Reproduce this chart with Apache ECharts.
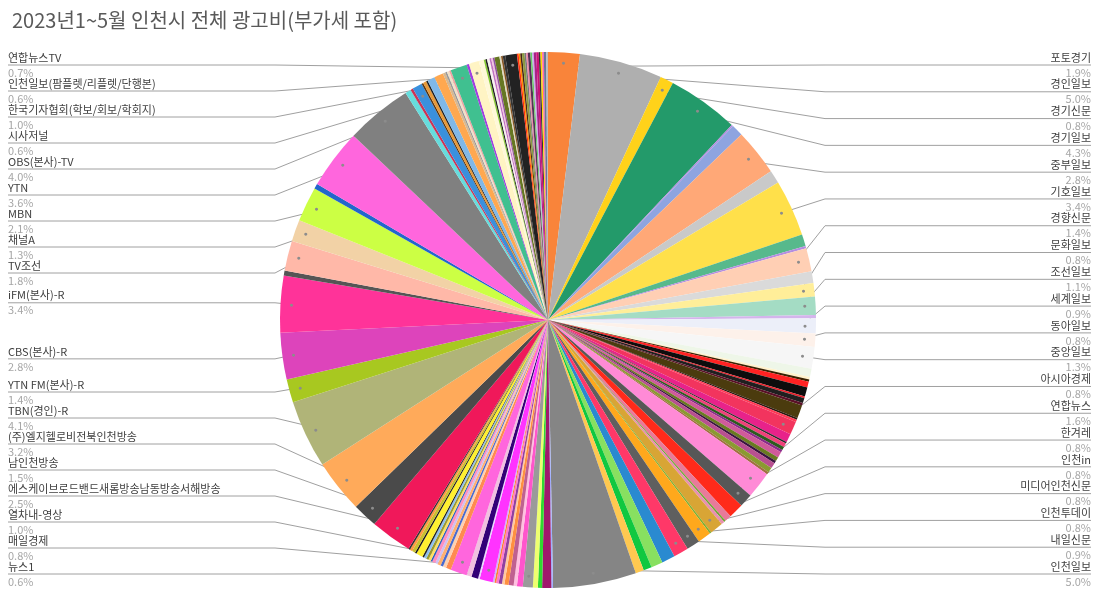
<!DOCTYPE html>
<html><head><meta charset="utf-8">
<script src="https://cdn.jsdelivr.net/npm/echarts@6/dist/echarts.min.js"></script>
<style>html,body{margin:0;padding:0;background:#fff}#c{width:1100px;height:607px}</style>
</head><body><div id="c"></div>
<script>
const titleText = '2023년1~5월 인천시 전체 광고비(부가세 포함)';
const U = '';
// slice names clockwise from 12 o'clock ('' = unlabeled slice)
const names = [
  '포토경기','경인일보','경기신문','경기일보',U,U,'중부일보',U,'기호일보',U,U,
  '경향신문',U,'문화일보','조선일보',U,'세계일보','동아일보','중앙일보',U,
  U,U,U,U,U,U,U,U,U,U,'아시아경제',
  U,U,U,U,U,U,U,U,U,U,U,'연합뉴스','한겨레',
  U,U,U,U,'인천in',U,'미디어인천신문','인천투데이','내일신문',U,U,U,U,'인천일보',
  U,U,U,U,'뉴스1',U,U,U,U,U,U,U,U,U,'매일경제',
  U,U,U,'열차내-영상',
  U,U,U,U,U,U,U,U,U,U,U,U,U,U,U,U,
  '에스케이브로드밴드새롬방송남동방송서해방송','남인천방송','(주)엘지헬로비전북인천방송','TBN(경인)-R','YTN FM(본사)-R','CBS(본사)-R','iFM(본사)-R',U,
  'TV조선','채널A','MBN',U,'YTN','OBS(본사)-TV',U,U,'시사저널',
  U,U,U,U,U,U,U,U,U,'한국기자협회(학보/회보/학회지)',U,'인천일보(팜플렛/리플렛/단행본)',
  U,U,U,U,U,U,U,U,U,U,U,'연합뉴스TV',
  U,U,U,U,U,U,U,U,U,U,U,U,U,U,U,U
];
// share of total (%)
const values = [
  1.9,5.0,0.8,4.3,0.1,0.7,2.8,0.8,3.4,0.7,0.15,
  1.4,0.7,0.8,1.1,0.2,0.9,0.8,1.3,0.5,
  0.15,0.15,0.35,0.55,0.1,0.3,0.15,0.8,0.1,0.15,0.8,
  0.5,0.1,0.25,0.2,0.15,0.35,0.25,0.15,0.35,0.3,0.15,1.6,0.8,
  0.9,0.4,0.1,0.2,0.8,0.1,0.8,0.8,0.9,0.8,0.7,0.5,0.5,5.0,
  0.1,0.55,0.25,0.3,0.6,0.35,0.2,0.3,0.25,0.15,0.2,0.15,0.1,0.1,0.8,
  0.1,0.4,0.3,1.0,
  0.3,0.2,0.15,0.2,0.15,0.2,0.1,0.15,0.15,0.15,0.1,0.4,0.1,0.2,0.15,0.1,
  2.5,1.5,3.2,4.1,1.4,2.8,3.4,0.3,
  1.8,1.3,2.1,0.3,3.6,4.0,0.35,0.15,0.6,
  0.1,0.2,0.1,0.45,0.55,0.15,0.1,0.15,0.1,1.0,0.15,0.6,
  0.3,0.1,0.1,0.15,0.1,0.1,0.1,0.3,0.1,0.1,0.15,0.7,
  0.1,0.1,0.1,0.15,0.1,0.1,0.15,0.1,0.1,0.15,0.15,0.1,0.1,0.1,0.15,0.1
];
// slice colours (style)
const colors = [
  '#f9843a','#afafaf','#ffd21a','#239a6a','#b48ae0','#8ea4e0','#ffa877','#c9c9c9','#ffe04a','#57b98c','#b58ee0',
  '#ffcfb4','#dadada','#ffee99','#a4dcc4','#d4b4ec','#eceff9','#fdf1ea','#f6f6f6','#eef6e8',
  '#fff2cc','#3a2200','#ff2222','#0d0d0d','#e8202a','#1f1f1f','#5a1028','#4b3b0e','#2a1a10','#ff3a55','#f2345e',
  '#e8228a','#2b2b2b','#f0407a','#2d5a1e','#8a2a8a','#d05a9a','#6a7a20','#3a1540','#b85090','#8a9a30','#a07040','#ff8ad6','#575757',
  '#ff2a1a','#e87a9a','#6aaa30','#e890b0','#d8a535','#7ab030','#ffa81c','#5f5f5f','#ff3868','#2a8ad0','#88e060','#10c840','#ffc850','#858585',
  '#a0b0ff','#a0186c','#30d830','#eeff70','#9a9a9a','#ff55cc','#ffc0e0','#c06090','#ff9040','#ffc8a0','#9040a0','#ff77cc','#ff8030','#d0b0ff','#ff33ff',
  '#e8d8ff','#330077','#f0c0e0','#ff66dd',
  '#ff8a50','#ffd0b0','#4a6ad0','#ffb070','#d0c0f0','#ff90c0','#3060c0','#ffe060','#9a9a30','#90c0f0','#222222','#fff030','#1a1a1a','#c8c030','#ff9a40','#333333',
  '#f0185a','#4a4a4a','#ffaa5a','#b0b478','#a8c820','#dd44bb','#ff3399','#555555',
  '#ffb8a8','#f2d2a6','#ccff44','#2266cc','#ff66dd','#808080','#66dddd','#cc3355','#3a90dd',
  '#553311','#e89a3a','#222222','#80b8e8','#ffa850','#d8b890','#999999','#f0e0c8','#f0a0a0','#40c090','#a040e0','#fff4c4',
  '#fff8d8','#88cc33','#222222','#f8f0f0','#c070c0','#f0c0e0','#9050a0','#667722','#e0d8c0','#885522','#333333','#222222',
  '#ff3010','#ff8a00','#442211','#8a9a40','#777777','#ee88aa','#553355','#66cc66','#ccaaee','#aa2288','#cc1177','#333333','#ffd700','#ff66aa','#667799','#bbbbbb'
];

const FONT = '"Noto Sans CJK KR", "Noto Sans", sans-serif';
const W = 1100, H = 607;
const TOP = 48, BOTTOM = 24;
const CX = 548, CY = 320, R = 268, DOT_R = 254, LINE_LEN = 20;
const EDGE_L = 8, EDGE_R = 1091, ELBOW_L = 275, ELBOW_R = 825;
const LABEL_TOP = 65, LABEL_BOTTOM = 574;
const boxH = H - TOP - BOTTOM;
const centerPct = [(CX / W * 100) + '%', ((CY - TOP) / boxH * 100) + '%'];

// ---- label placement: natural height from slice angle, then spread to avoid overlap
const total = values.reduce((a, b) => a + b, 0);
const rightList = [], leftList = [];
(function () {
  let cum = 0;
  values.forEach((v, i) => {
    const mid = (cum + v / 2) / total * 2 * Math.PI;
    cum += v;
    if (!names[i]) return;
    const o = { i, yNat: CY - (R + LINE_LEN) * Math.cos(mid) };
    (mid < Math.PI ? rightList : leftList).push(o);
  });
  leftList.reverse();
})();
function spread(list, y0, y1, gap) {
  list.forEach(o => { o.y = Math.min(Math.max(o.yNat, y0), y1); });
  for (let k = 1; k < list.length; k++) list[k].y = Math.max(list[k].y, list[k - 1].y + gap);
  list[list.length - 1].y = Math.min(list[list.length - 1].y, y1);
  for (let k = list.length - 2; k >= 0; k--) list[k].y = Math.min(list[k].y, list[k + 1].y - gap);
}
spread(rightList, LABEL_TOP, LABEL_BOTTOM, (LABEL_BOTTOM - LABEL_TOP) / (rightList.length - 1));
spread(leftList, LABEL_TOP, LABEL_BOTTOM, 26);
const labelPos = {};
rightList.forEach(o => { labelPos[o.i] = { y: o.y, left: false }; });
leftList.forEach(o => { labelPos[o.i] = { y: o.y, left: true }; });

const chart = echarts.init(document.getElementById('c'), null, { renderer: 'canvas' });

const mainData = values.map((v, i) => {
  const lab = names[i] !== '';
  return { name: names[i], value: v, itemStyle: { color: colors[i] },
    label: { show: lab }, labelLine: { show: lab } };
});
const dotData = values.map((v, i) => {
  const lab = names[i] !== '';
  return { name: names[i], value: v, itemStyle: { color: 'rgba(0,0,0,0)' }, label: { show: lab } };
});

chart.setOption({
  backgroundColor: '#fff',
  animation: false,
  title: { text: titleText, left: 7, top: 5,
    textStyle: { fontFamily: FONT, fontSize: 20, fontWeight: 'normal', color: '#595959' } },
  series: [{
    type: 'pie', silent: true,
    left: 0, right: 0, top: TOP, bottom: BOTTOM,
    center: centerPct, radius: R,
    startAngle: 90, clockwise: true,
    avoidLabelOverlap: true,
    itemStyle: { borderWidth: 0 },
    label: {
      alignTo: 'edge', edgeDistance: 8, minMargin: 0,
      formatter: p => '{n|' + p.name + '}\n{v|' + p.value.toFixed(1) + '%}',
      rich: {
        n: { fontFamily: FONT, fontSize: 11, color: '#404040', lineHeight: 15 },
        v: { fontFamily: FONT, fontSize: 11, color: '#a6a6a6', lineHeight: 15 }
      }
    },
    labelLine: { length: LINE_LEN, length2: 0, lineStyle: { color: '#a0a0a0', width: 1 } },
    labelLayout: function (params) {
      const pos = labelPos[params.dataIndex];
      const pts = params.labelLinePoints;
      if (!pos || !pts) return {};
      const k = DOT_R / R;
      const p0 = [CX + (pts[0][0] - CX) * k, CY + (pts[0][1] - CY) * k];
      const edgeX = pos.left ? EDGE_L : EDGE_R;
      const elbowX = pos.left ? ELBOW_L : ELBOW_R;
      return {
        x: edgeX, y: pos.y,
        align: pos.left ? 'left' : 'right', verticalAlign: 'middle',
        labelLinePoints: [p0, [elbowX, pos.y], [edgeX, pos.y]]
      };
    },
    data: mainData
  }, {
    type: 'pie', silent: true, z: 5,
    left: 0, right: 0, top: TOP, bottom: BOTTOM,
    center: centerPct, radius: [DOT_R - 14, R],
    startAngle: 90, clockwise: true,
    label: { position: 'inside', formatter: '●', fontSize: 7, color: '#8c8c8c' },
    labelLine: { show: false },
    data: dotData
  }]
});
</script>
</body></html>
